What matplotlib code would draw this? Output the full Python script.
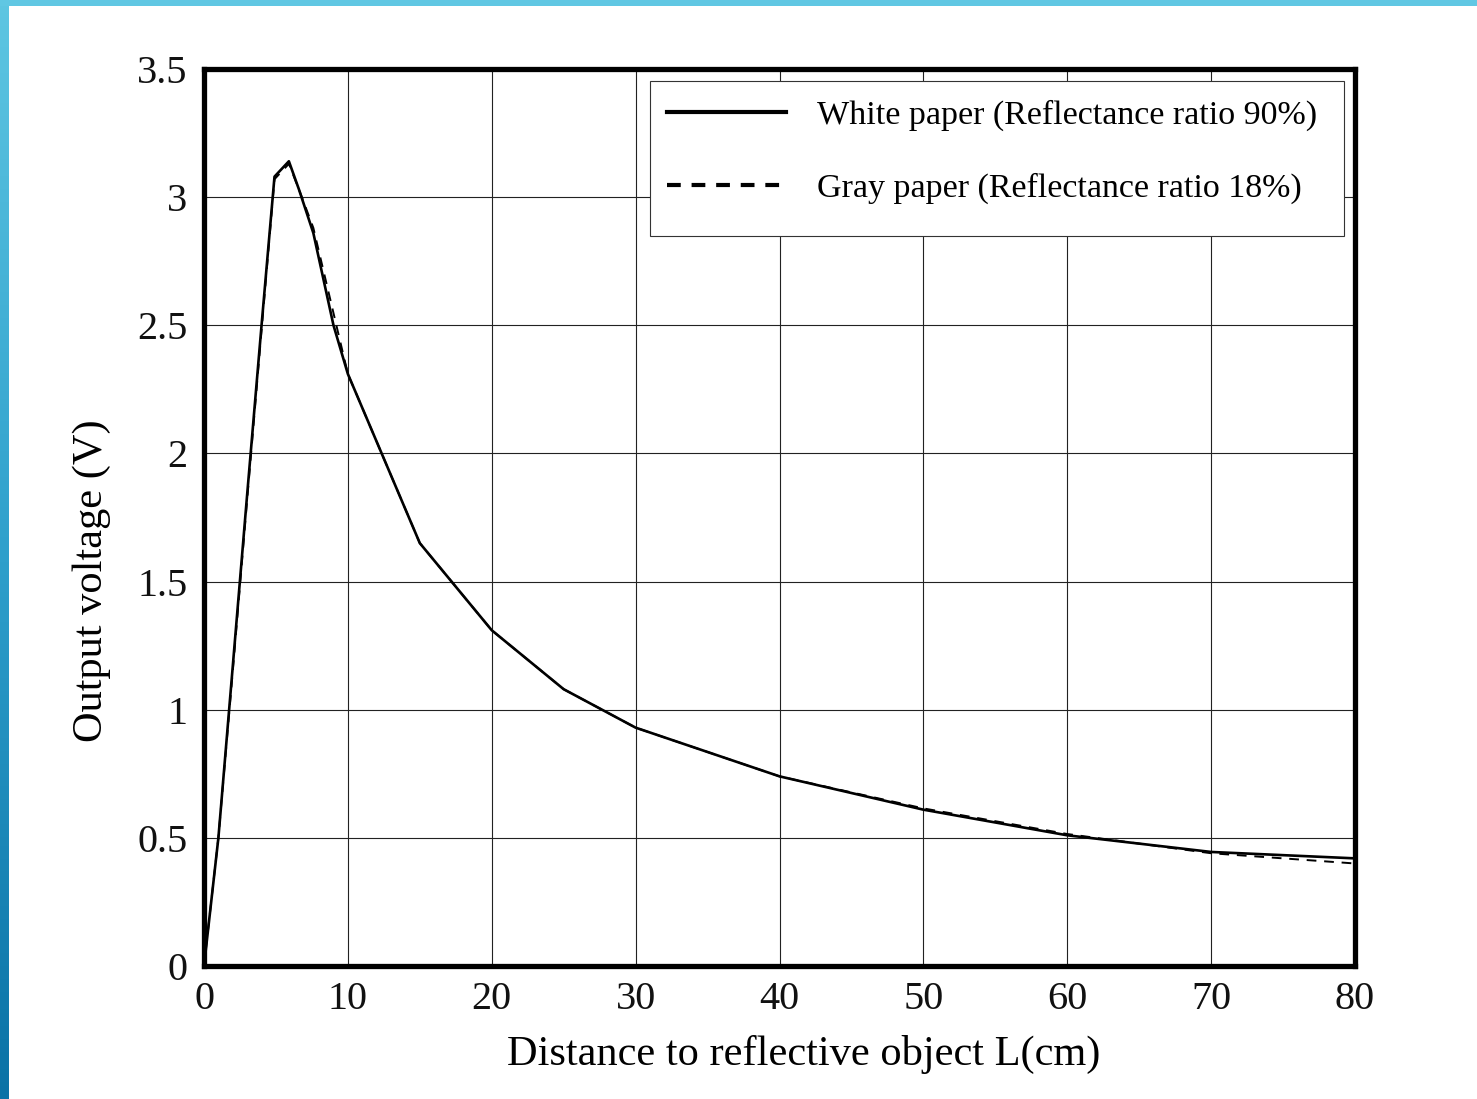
import numpy as np
import matplotlib.pyplot as plt
from matplotlib.colors import LinearSegmentedColormap
from matplotlib.patches import Rectangle

# distance (cm) and output voltage (V)
white_x = [0, 1, 2, 3, 4, 4.9, 5.9, 6.6, 7.6, 9.0, 10, 15, 20, 25, 30, 40, 50, 60, 70, 80]
white_y = [0, 0.5, 1.17, 1.84, 2.5, 3.08, 3.14, 3.03, 2.86, 2.5, 2.31, 1.65, 1.31, 1.08, 0.93, 0.74, 0.61, 0.51, 0.445, 0.42]

gray_x = [0, 1, 2, 3, 4, 4.9, 5.9, 6.6, 7.6, 9.2, 10, 15, 20, 25, 30, 40, 50, 60, 70, 80]
gray_y = [0, 0.5, 1.15, 1.82, 2.48, 3.07, 3.13, 3.03, 2.88, 2.5, 2.31, 1.65, 1.31, 1.08, 0.93, 0.74, 0.615, 0.515, 0.44, 0.40]

x_ticks = [0, 10, 20, 30, 40, 50, 60, 70, 80]
y_ticks = [0, 0.5, 1, 1.5, 2, 2.5, 3, 3.5]
y_tick_labels = ["0", "0.5", "1", "1.5", "2", "2.5", "3", "3.5"]

labels = ["White paper (Reflectance ratio 90%)", "Gray paper (Reflectance ratio 18%)"]


def main() -> None:
    plt.rcParams["font.family"] = ["Liberation Serif", "DejaVu Serif"]

    W, H = 1477, 1099
    fig = plt.figure(figsize=(W / 100, H / 100), dpi=100)
    fig.patch.set_facecolor("white")

    # blue slide border (left gradient, top strip)
    border = fig.add_axes([0, 0, 9 / W, 1])
    cmap = LinearSegmentedColormap.from_list("edge", ["#0a72a6", "#2fa0cc", "#5ec6e2"])
    border.imshow(np.linspace(0, 1, 256).reshape(-1, 1), aspect="auto", cmap=cmap, origin="lower")
    border.axis("off")
    fig.patches.append(Rectangle((0, 1 - 6 / H), 1, 6 / H, transform=fig.transFigure,
                                 facecolor="#60c7e3", edgecolor="none", zorder=10))

    ax = fig.add_axes([204 / W, 1 - 966 / H, (1355 - 204) / W, (966 - 69) / H])

    ax.plot(white_x, white_y, color="black", lw=1.9, label=labels[0], zorder=3)
    ax.plot(gray_x, gray_y, color="black", lw=1.4, linestyle=(0, (5, 4)), label=labels[1], zorder=3)

    ax.set_xlim(0, 80)
    ax.set_ylim(0, 3.5)
    ax.set_xticks(x_ticks)
    ax.set_yticks(y_ticks)
    ax.set_yticklabels(y_tick_labels)
    ax.grid(True, color="#222222", lw=0.8)
    ax.tick_params(length=0, labelsize=29, colors="#111111")
    ax.tick_params(axis="x", pad=11)
    ax.tick_params(axis="y", pad=12)

    for s in ax.spines.values():
        s.set_linewidth(3.8)
        s.set_color("black")

    ax.set_xlabel("Distance to reflective object L(cm)", fontsize=30.5)
    ax.xaxis.set_label_coords(0.521, -0.077)
    ax.set_ylabel("Output voltage (V)", fontsize=30.5)
    ax.yaxis.set_label_coords(-0.081, 0.429)

    # legend frame drawn separately so the rows can sit where the reference has them
    ax.add_patch(Rectangle((650 / W, 1 - 236 / H), (1344 - 650) / W, (236 - 81) / H,
                           transform=fig.transFigure, facecolor="white",
                           edgecolor="#333333", lw=0.8, zorder=4, clip_on=False))
    leg = ax.legend(loc="upper left", bbox_to_anchor=(667 / W, 1 - 100 / H),
                    bbox_transform=fig.transFigure, borderaxespad=0, borderpad=0,
                    fontsize=24.5, handlelength=3.5, handletextpad=0.9,
                    labelspacing=1.22, frameon=False)
    leg.set_zorder(5)
    lines = leg.get_lines()
    for line in lines:
        line.set_linewidth(3.0)
    lines[1].set_dashes((3.3, 2.6))

    fig.savefig("out.png", dpi=100)


if __name__ == "__main__":
    main()
